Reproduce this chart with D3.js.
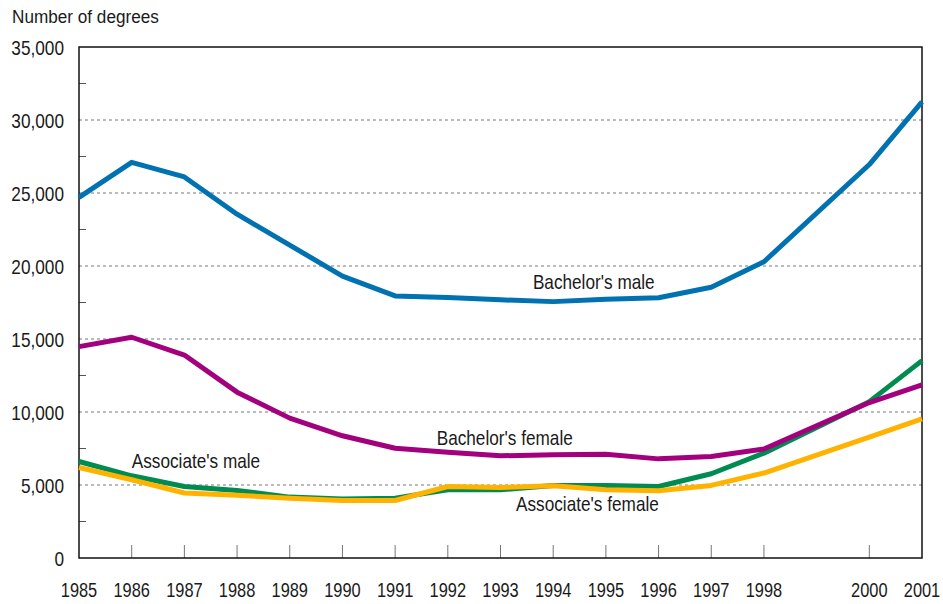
<!DOCTYPE html>
<html>
<head>
<meta charset="utf-8">
<script src="https://cdn.jsdelivr.net/npm/d3@7"></script>
<style>
    body { margin: 0; background: #fff; }
    svg text { font-family: "Liberation Sans", Arial, sans-serif; fill: #1a1a1a; }
</style>
</head>
<body>
<div id="vis"></div>
<script>
// Years plotted (no 1999 observation in the source)
var years = [1985, 1986, 1987, 1988, 1989, 1990, 1991, 1992, 1993, 1994, 1995, 1996, 1997, 1998, 2000, 2001];
var tickYears = [1985, 1986, 1987, 1988, 1989, 1990, 1991, 1992, 1993, 1994, 1995, 1996, 1997, 1998, 2000, 2001];
var yTicks = [0, 5000, 10000, 15000, 20000, 25000, 30000, 35000];

var bachelorsMale   = [24700, 27100, 26100, 23550, 21430, 19310, 17950, 17850, 17680, 17560, 17720, 17830, 18540, 20290, 26950, 31240];
var bachelorsFemale = [14480, 15120, 13900, 11360, 9580, 8370, 7520, 7250, 7000, 7070, 7110, 6790, 6950, 7460, 10650, 11860];
var associatesMale  = [6610, 5630, 4900, 4630, 4170, 4040, 4100, 4670, 4670, 4970, 4970, 4900, 5770, 7180, 10710, 13520];
var associatesFemale = [6200, 5360, 4450, 4290, 4100, 3940, 3940, 4900, 4830, 4950, 4670, 4600, 4970, 5820, 8280, 9530];

var margin = { top: 47, right: 21, bottom: 46, left: 79 },
    width = 943,
    height = 604,
    drawWidth = width - margin.left - margin.right,
    drawHeight = height - margin.top - margin.bottom,
    narrow = 0.82; // horizontal squeeze to mimic a condensed face

var series = [
    { name: "Associate's male",   values: associatesMale,   color: "#008c50", label: [1987.22, 6160] },
    { name: "Associate's female", values: associatesFemale, color: "#ffb300", label: [1994.65, 3190] },
    { name: "Bachelor's female",  values: bachelorsFemale,  color: "#a3007e", label: [1993.08, 7750] },
    { name: "Bachelor's male",    values: bachelorsMale,    color: "#0071b1", label: [1994.77, 18400] }
];

var svg = d3.select("#vis").append("svg")
    .attr("width", width)
    .attr("height", height);

var g = svg.append("g")
    .attr("transform", "translate(" + margin.left + "," + margin.top + ")");

var x = d3.scaleLinear().domain([1985, 2001]).range([0, drawWidth]);
var y = d3.scaleLinear().domain([0, 35000]).range([drawHeight, 0]);

var place = function (px, py, sx) {
    return "translate(" + px + "," + py + ") scale(" + sx + ",1)";
};

// dashed gridlines
g.selectAll(".grid")
    .data(yTicks.filter(function (d) { return d > 0 && d < 35000; }))
    .enter().append("line")
    .attr("x1", 0).attr("x2", drawWidth)
    .attr("y1", function (d) { return y(d); })
    .attr("y2", function (d) { return y(d); })
    .attr("stroke", "#777")
    .attr("stroke-width", 1)
    .attr("stroke-dasharray", "3,3");

// minor ticks on left axis (every 2,500)
g.selectAll(".minor")
    .data(d3.range(2500, 35000, 5000))
    .enter().append("line")
    .attr("x1", 0).attr("x2", 7)
    .attr("y1", function (d) { return y(d); })
    .attr("y2", function (d) { return y(d); })
    .attr("stroke", "#555");

// x ticks pointing up from the bottom
g.selectAll(".xtick")
    .data(tickYears.slice(1, -1))
    .enter().append("line")
    .attr("x1", function (d) { return x(d); })
    .attr("x2", function (d) { return x(d); })
    .attr("y1", drawHeight).attr("y2", drawHeight - 13)
    .attr("stroke", "#777");

// frame
g.append("rect")
    .attr("width", drawWidth).attr("height", drawHeight)
    .attr("fill", "none").attr("stroke", "#111").attr("stroke-width", 1.5);

// lines
var line = d3.line()
    .x(function (d, i) { return x(years[i]); })
    .y(function (d) { return y(d); });

g.selectAll(".series")
    .data(series)
    .enter().append("path")
    .attr("d", function (d) { return line(d.values); })
    .attr("fill", "none")
    .attr("stroke", function (d) { return d.color; })
    .attr("stroke-width", 5)
    .attr("stroke-linejoin", "round");

g.selectAll(".label")
    .data(series)
    .enter().append("text")
    .attr("transform", function (d) { return place(x(d.label[0]), y(d.label[1]), 0.86); })
    .attr("text-anchor", "middle")
    .style("font-size", "20px")
    .text(function (d) { return d.name; });

// y tick labels
g.selectAll(".ylab")
    .data(yTicks)
    .enter().append("text")
    .attr("transform", function (d) { return place(-15, y(d) + 7.5, narrow); })
    .attr("text-anchor", "end")
    .style("font-size", "21px")
    .text(function (d) { return d3.format(",")(d); });

// x tick labels
g.selectAll(".xlab")
    .data(tickYears)
    .enter().append("text")
    .attr("transform", function (d) { return place(x(d), drawHeight + 39, 0.8); })
    .attr("text-anchor", "middle")
    .style("font-size", "20.5px")
    .text(function (d) { return d; });

svg.append("text")
    .attr("transform", place(12, 23, 0.97))
    .style("font-size", "17.7px")
    .text("Number of degrees");
</script>
</body>
</html>
